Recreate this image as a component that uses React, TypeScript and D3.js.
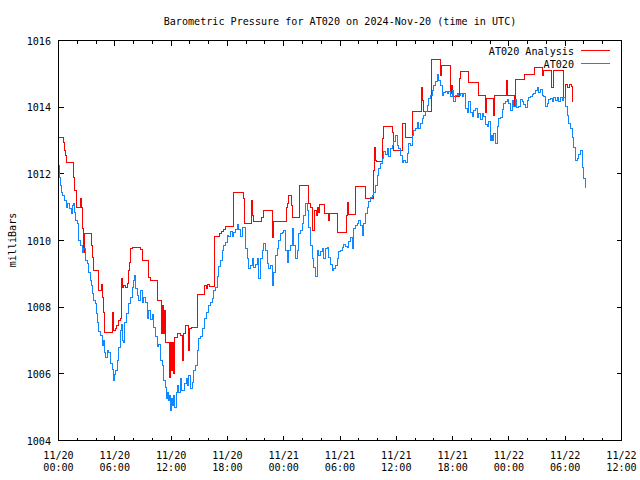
import React from "react";
import * as d3 from "d3";

const TITLE = "Barometric Pressure for AT020 on 2024-Nov-20 (time in UTC)";
const Y_LABEL = "milliBars";
const SERIES_NAMES = ["AT020 Analysis", "AT020"];
const SERIES_COLORS = ["#ff0000", "#0f88ff"];
const X_TICK_HOURS = [0, 6, 12, 18, 24, 30, 36, 42, 48, 54, 60];
const X_TICK_DATES = ["11/20", "11/20", "11/20", "11/20", "11/21", "11/21", "11/21", "11/21", "11/22", "11/22", "11/22"];
const X_TICK_TIMES = ["00:00", "06:00", "12:00", "18:00", "00:00", "06:00", "12:00", "18:00", "00:00", "06:00", "12:00"];
const Y_TICKS = [1004, 1006, 1008, 1010, 1012, 1014, 1016];

// hours since 2024-11-20 00:00 UTC, pressure (mb)
const obsReadings: [number, number][] = [
  [0.0, 1012.25], [0.11, 1011.89], [0.21, 1011.65], [0.32, 1011.44], [0.43, 1011.35], [0.64, 1011.2],
  [0.85, 1010.99], [0.96, 1011.11], [1.17, 1010.96], [1.39, 1010.81], [1.49, 1011.05], [1.6, 1011.11],
  [1.71, 1010.84], [1.81, 1010.6], [2.03, 1010.51], [2.13, 1010.0], [2.35, 1009.85], [2.56, 1009.64],
  [2.67, 1009.76], [2.88, 1009.4], [3.09, 1009.31], [3.2, 1009.04], [3.41, 1008.8], [3.52, 1008.65],
  [3.62, 1008.41], [3.73, 1008.2], [3.94, 1008.11], [4.05, 1007.81], [4.16, 1007.54], [4.26, 1007.27],
  [4.48, 1007.15], [4.69, 1006.85], [4.8, 1007.0], [4.9, 1006.64], [5.01, 1006.49], [5.22, 1006.7],
  [5.33, 1006.64], [5.54, 1006.31], [5.76, 1006.13], [5.86, 1005.8], [5.97, 1005.98], [6.08, 1006.1],
  [6.29, 1006.4], [6.4, 1006.79], [6.61, 1007.3], [6.72, 1007.48], [6.82, 1007.0], [6.93, 1006.94],
  [7.04, 1007.54], [7.25, 1007.81], [7.46, 1008.11], [7.68, 1008.29], [7.89, 1008.59], [8.0, 1008.8],
  [8.1, 1008.95], [8.21, 1008.56], [8.42, 1008.35], [8.53, 1008.2], [8.74, 1008.5], [8.95, 1008.14],
  [9.06, 1008.29], [9.27, 1008.14], [9.49, 1007.66], [9.59, 1007.9], [9.81, 1007.63], [10.02, 1007.78],
  [10.13, 1007.39], [10.34, 1007.12], [10.55, 1006.82], [10.66, 1006.88], [10.87, 1006.4], [11.09, 1006.25],
  [11.19, 1005.8], [11.4, 1005.59], [11.51, 1005.26], [11.62, 1005.44], [11.72, 1005.2], [11.83, 1005.35],
  [11.94, 1004.9], [12.04, 1005.26], [12.15, 1005.05], [12.26, 1005.35], [12.36, 1004.99], [12.58, 1005.44],
  [12.68, 1005.65], [12.79, 1005.44], [13.0, 1005.86], [13.11, 1005.5], [13.32, 1005.5], [13.43, 1005.71],
  [13.64, 1005.86], [13.75, 1005.65], [13.86, 1005.95], [14.07, 1005.56], [14.28, 1005.74], [14.39, 1006.1],
  [14.6, 1006.25], [14.81, 1006.7], [14.92, 1007.06], [15.13, 1007.12], [15.35, 1007.36], [15.56, 1007.66],
  [15.77, 1007.84], [15.99, 1008.05], [16.2, 1008.14], [16.41, 1008.26], [16.52, 1008.5], [16.73, 1008.59],
  [16.94, 1008.92], [17.05, 1009.22], [17.27, 1009.4], [17.48, 1009.7], [17.59, 1009.85], [17.8, 1009.94],
  [18.01, 1010.15], [18.12, 1010.12], [18.33, 1010.27], [18.55, 1010.12], [18.65, 1010.24], [18.87, 1010.33],
  [19.08, 1010.48], [19.19, 1010.33], [19.4, 1010.12], [19.61, 1010.39], [19.72, 1010.39], [19.93, 1009.76],
  [20.15, 1009.46], [20.25, 1009.16], [20.47, 1009.25], [20.68, 1009.46], [20.79, 1009.19], [21.0, 1009.28],
  [21.21, 1009.46], [21.32, 1008.86], [21.53, 1009.46], [21.75, 1009.7], [21.85, 1009.91], [22.07, 1009.7],
  [22.28, 1009.31], [22.39, 1009.16], [22.6, 1009.25], [22.81, 1008.65], [22.92, 1009.04], [23.13, 1009.55],
  [23.34, 1009.76], [23.45, 1010.0], [23.66, 1010.21], [23.87, 1010.24], [23.98, 1010.3], [24.2, 1009.7],
  [24.41, 1009.34], [24.52, 1009.7], [24.73, 1009.85], [24.94, 1010.36], [25.05, 1009.85], [25.26, 1009.46],
  [25.48, 1009.7], [25.58, 1010.21], [25.8, 1010.3], [26.01, 1010.51], [26.11, 1010.75], [26.33, 1011.11],
  [26.54, 1010.9], [26.65, 1010.39], [26.86, 1009.85], [27.07, 1009.46], [27.18, 1009.19], [27.39, 1008.92],
  [27.61, 1009.7], [27.71, 1009.55], [27.93, 1009.67], [28.14, 1009.76], [28.25, 1009.46], [28.46, 1009.76],
  [28.67, 1009.79], [28.78, 1009.49], [28.99, 1009.28], [29.21, 1009.1], [29.31, 1009.16], [29.53, 1009.25],
  [29.74, 1009.46], [29.84, 1009.67], [30.06, 1009.7], [30.27, 1009.79], [30.38, 1009.88], [30.59, 1009.82],
  [30.8, 1009.79], [30.91, 1009.97], [31.12, 1010.09], [31.34, 1009.76], [31.44, 1010.36], [31.66, 1010.45],
  [31.87, 1010.51], [31.98, 1010.6], [32.19, 1010.45], [32.4, 1010.15], [32.51, 1010.51], [32.72, 1010.81],
  [32.94, 1010.99], [33.04, 1011.17], [33.26, 1011.29], [33.47, 1011.35], [33.58, 1011.44], [33.79, 1011.65],
  [34.0, 1011.95], [34.11, 1012.16], [34.32, 1012.31], [34.54, 1012.46], [34.64, 1012.67], [34.86, 1012.58],
  [35.07, 1012.76], [35.18, 1012.52], [35.39, 1012.76], [35.6, 1012.85], [35.71, 1012.97], [35.92, 1013.15],
  [36.13, 1012.85], [36.24, 1012.76], [36.45, 1012.55], [36.67, 1012.34], [36.77, 1012.4], [36.99, 1012.34],
  [37.2, 1012.61], [37.31, 1012.91], [37.52, 1012.85], [37.73, 1013.15], [37.84, 1013.3], [38.05, 1013.36],
  [38.26, 1013.54], [38.37, 1013.36], [38.58, 1013.51], [38.8, 1013.66], [38.91, 1013.75], [39.12, 1013.87],
  [39.33, 1014.05], [39.44, 1014.26], [39.65, 1014.35], [39.86, 1014.5], [39.97, 1014.65], [40.18, 1014.77],
  [40.4, 1014.98], [40.5, 1014.8], [40.72, 1014.65], [40.93, 1014.35], [41.04, 1014.44], [41.25, 1014.47],
  [41.46, 1014.41], [41.57, 1014.47], [41.78, 1014.32], [42.0, 1014.5], [42.1, 1014.17], [42.32, 1014.35],
  [42.53, 1014.41], [42.63, 1014.35], [42.85, 1014.41], [43.06, 1014.32], [43.17, 1014.41], [43.38, 1013.96],
  [43.59, 1013.84], [43.7, 1014.17], [43.91, 1013.84], [44.13, 1013.72], [44.23, 1013.9], [44.45, 1013.96],
  [44.66, 1013.69], [44.77, 1013.81], [44.98, 1013.63], [45.19, 1013.81], [45.3, 1013.72], [45.51, 1013.48],
  [45.73, 1013.42], [45.84, 1013.57], [46.05, 1013.0], [46.16, 1013.15], [46.26, 1013.0], [46.37, 1013.21],
  [46.58, 1012.91], [46.79, 1013.42], [46.9, 1013.66], [47.11, 1013.69], [47.32, 1013.93], [47.43, 1014.11],
  [47.64, 1014.17], [47.86, 1014.23], [47.96, 1014.11], [48.18, 1013.9], [48.39, 1014.2], [48.5, 1014.02],
  [48.71, 1014.23], [48.82, 1013.99], [49.03, 1014.02], [49.24, 1014.23], [49.46, 1014.17], [49.56, 1014.08],
  [49.78, 1013.99], [49.99, 1014.2], [50.09, 1014.29], [50.31, 1014.32], [50.52, 1014.38], [50.63, 1014.41],
  [50.84, 1014.5], [51.05, 1014.59], [51.16, 1014.44], [51.37, 1014.53], [51.59, 1014.35], [51.69, 1014.32],
  [51.91, 1014.02], [52.12, 1014.11], [52.23, 1014.23], [52.44, 1014.26], [52.65, 1014.17], [52.76, 1014.29],
  [52.97, 1014.2], [53.19, 1014.29], [53.29, 1014.17], [53.51, 1014.29], [53.72, 1014.2], [53.83, 1014.29],
  [54.04, 1014.02], [54.25, 1013.75], [54.36, 1013.51], [54.57, 1013.36], [54.79, 1013.09], [54.89, 1012.79],
  [55.11, 1012.4], [55.32, 1012.46], [55.43, 1012.58], [55.64, 1012.7], [55.85, 1012.19], [55.96, 1011.86],
  [56.17, 1011.59],
];

const analysisReadings: [number, number][] = [
  [0.0, 1013.09], [0.53, 1012.94], [0.64, 1012.7], [0.75, 1012.55], [0.85, 1012.34], [1.6, 1011.89],
  [1.71, 1011.5], [1.92, 1010.99], [2.35, 1011.26], [2.45, 1010.99], [2.56, 1010.36], [2.67, 1009.64],
  [2.77, 1010.21], [3.52, 1009.85], [3.62, 1009.49], [3.73, 1009.1], [4.26, 1008.5], [4.58, 1008.68],
  [4.69, 1008.29], [4.8, 1007.84], [4.9, 1007.24], [5.76, 1007.84], [5.86, 1007.3], [6.08, 1007.36],
  [6.18, 1007.45], [6.4, 1007.6], [6.61, 1007.66], [6.72, 1008.86], [6.82, 1008.59], [6.93, 1008.65],
  [7.14, 1008.59], [7.35, 1008.71], [7.46, 1009.1], [7.57, 1009.34], [7.67, 1009.76], [7.89, 1009.79],
  [8.74, 1009.73], [8.95, 1009.4], [9.59, 1008.89], [9.81, 1008.8], [10.55, 1008.2], [10.98, 1007.21],
  [11.09, 1008.05], [11.19, 1007.21], [11.3, 1007.9], [11.4, 1006.94], [11.83, 1005.89], [11.94, 1006.94],
  [12.04, 1006.1], [12.15, 1006.94], [12.26, 1006.01], [12.36, 1007.09], [12.68, 1007.21], [13.0, 1007.15],
  [13.22, 1006.4], [13.32, 1007.21], [13.54, 1007.45], [13.86, 1006.7], [13.96, 1007.36], [14.18, 1007.39],
  [14.81, 1008.38], [15.56, 1008.65], [15.77, 1008.56], [15.88, 1008.68], [16.09, 1008.62], [16.63, 1010.12],
  [17.16, 1010.21], [17.37, 1010.27], [17.59, 1010.33], [17.8, 1010.42], [18.65, 1011.44], [19.72, 1011.26],
  [19.82, 1010.51], [20.57, 1011.2], [20.68, 1010.75], [20.79, 1010.57], [21.64, 1010.69], [21.85, 1010.9],
  [22.81, 1010.09], [22.92, 1010.57], [24.3, 1010.99], [24.41, 1011.11], [24.52, 1011.35], [24.83, 1011.05],
  [24.94, 1010.69], [25.69, 1011.65], [26.65, 1011.11], [26.86, 1010.99], [27.07, 1010.3], [27.29, 1010.9],
  [27.5, 1010.75], [27.61, 1010.99], [27.71, 1010.84], [27.82, 1011.08], [28.35, 1010.81], [28.78, 1010.6],
  [28.89, 1010.81], [29.74, 1010.24], [30.7, 1010.75], [30.8, 1011.14], [30.91, 1010.78], [31.66, 1011.62],
  [32.72, 1011.26], [33.58, 1012.1], [33.69, 1012.79], [33.79, 1012.4], [33.9, 1012.37], [34.54, 1013.06],
  [34.64, 1013.42], [35.6, 1013.24], [35.71, 1012.7], [36.67, 1013.51], [36.99, 1013.09], [37.73, 1013.87],
  [38.69, 1014.59], [38.8, 1014.2], [38.91, 1013.87], [39.76, 1015.43], [40.72, 1014.95], [40.82, 1015.25],
  [41.78, 1014.41], [41.89, 1014.65], [42.0, 1014.44], [42.1, 1014.32], [42.74, 1014.86], [42.85, 1015.07],
  [43.7, 1014.74], [44.77, 1014.35], [45.51, 1013.84], [45.62, 1014.26], [46.37, 1013.75], [46.48, 1014.35],
  [47.75, 1014.8], [47.86, 1014.35], [48.6, 1014.05], [48.71, 1014.83], [49.67, 1014.98], [50.73, 1015.19],
  [51.59, 1014.95], [51.69, 1015.1], [52.55, 1014.59], [52.76, 1015.1], [53.83, 1014.29], [54.04, 1014.68],
  [54.25, 1014.59], [54.47, 1014.68], [54.68, 1014.62], [54.79, 1014.17],
];

const W = 640;
const H = 480;
const FONT = "'DejaVu Sans Mono', 'Liberation Mono', monospace";

function Txt({ x, y, children, anchor = "start", rotate = 0 }: any) {
  return (
    <g transform={`translate(${x},${y}) rotate(${rotate}) scale(0.92,1)`}>
      <text x={0} y={0} textAnchor={anchor} fontFamily={FONT} fontSize={11} fill="#000">
        {children}
      </text>
    </g>
  );
}

export default function App() {
  const x = d3.scaleLinear().domain([0, 60]).range([58.5, 621.5]);
  const y = d3.scaleLinear().domain([1004, 1016]).range([440.5, 40.5]);
  const [x0, x1] = x.range();
  const [yb, yt] = y.range();

  const line = d3
    .line<[number, number]>()
    .x((d) => x(d[0]))
    .y((d) => y(d[1]))
    .curve(d3.curveStepAfter);

  const minorHours = d3.range(0, 61, 2).filter((h) => h % 6 !== 0);

  return (
    <svg
      width={W}
      height={H}
      style={{ position: "absolute", left: 0, top: 0, background: "#fff" }}
    >
      <rect x={0} y={0} width={W} height={H} fill="#fff" />
      <Txt x={(x0 + x1) / 2} y={24.5} anchor="middle">{TITLE}</Txt>
      <Txt x={16} y={240} anchor="middle" rotate={-90}>{Y_LABEL}</Txt>

      {/* ticks */}
      <g stroke="#000" strokeWidth={1} shapeRendering="crispEdges">
        {Y_TICKS.map((t) => (
          <g key={"y" + t}>
            <line x1={x0} x2={x0 + 5} y1={y(t)} y2={y(t)} />
            <line x1={x1} x2={x1 - 5} y1={y(t)} y2={y(t)} />
          </g>
        ))}
        {X_TICK_HOURS.map((h) => (
          <g key={"x" + h}>
            <line x1={x(h)} x2={x(h)} y1={yb} y2={yb - 5} />
            <line x1={x(h)} x2={x(h)} y1={yt} y2={yt + 5} />
          </g>
        ))}
        {minorHours.map((h) => (
          <g key={"m" + h}>
            <line x1={x(h)} x2={x(h)} y1={yb} y2={yb - 3} />
            <line x1={x(h)} x2={x(h)} y1={yt} y2={yt + 3} />
          </g>
        ))}
      </g>

      {Y_TICKS.map((t) => (
        <Txt key={"yl" + t} x={51} y={y(t) + 4} anchor="end">{String(t)}</Txt>
      ))}
      {X_TICK_HOURS.map((h, i) => (
        <g key={"xl" + h}>
          <Txt x={x(h)} y={458.5} anchor="middle">{X_TICK_DATES[i]}</Txt>
          <Txt x={x(h)} y={470.5} anchor="middle">{X_TICK_TIMES[i]}</Txt>
        </g>
      ))}

      <g fill="none" strokeWidth={1} shapeRendering="crispEdges">
        <path d={line(analysisReadings) || ""} stroke={SERIES_COLORS[0]} />
        <path d={line(obsReadings) || ""} stroke={SERIES_COLORS[1]} />
      </g>

      {/* legend */}
      {SERIES_NAMES.map((name, i) => (
        <g key={name}>
          <Txt x={574} y={54.5 + i * 13} anchor="end">{name}</Txt>
          <line
            x1={581}
            x2={610}
            y1={50.5 + i * 13}
            y2={50.5 + i * 13}
            stroke={SERIES_COLORS[i]}
            strokeWidth={1}
            shapeRendering="crispEdges"
          />
        </g>
      ))}

      <rect
        x={x0}
        y={yt}
        width={x1 - x0}
        height={yb - yt}
        fill="none"
        stroke="#000"
        strokeWidth={1}
        shapeRendering="crispEdges"
      />
    </svg>
  );
}
